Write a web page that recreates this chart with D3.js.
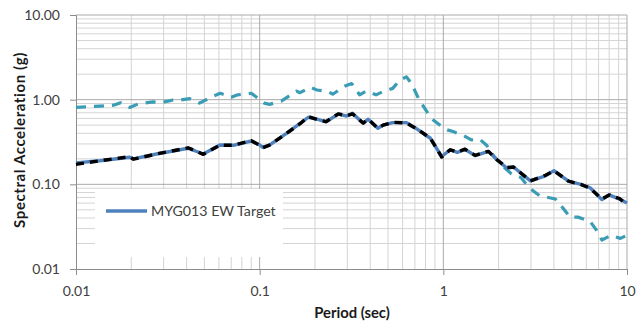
<!DOCTYPE html>
<html>
<head>
<meta charset="utf-8">
<script src="https://cdn.jsdelivr.net/npm/d3@7"></script>
<style>
  body { margin: 0; background: #fff; }
  text { font-family: Lato, "Open Sans", sans-serif; }
</style>
</head>
<body>
<div id="chart"></div>
<script>
const width = 644;
const height = 328;

// periods (sec) and spectral accelerations (g)
const targetT = [0.01, 0.0135, 0.0196, 0.0205, 0.0274, 0.0408, 0.0493, 0.0607, 0.0718, 0.09, 0.1, 0.104, 0.113, 0.14, 0.166, 0.184, 0.205, 0.23, 0.268, 0.298, 0.32, 0.366, 0.39, 0.44, 0.47, 0.53, 0.63, 0.72, 0.85, 0.98, 1.09, 1.19, 1.31, 1.49, 1.76, 1.96, 2.22, 2.41, 2.98, 3.6, 4.0, 4.8, 5.6, 6.3, 7.3, 8.0, 9.1, 10];
const targetSa = [0.179, 0.19, 0.209, 0.2, 0.228, 0.267, 0.228, 0.292, 0.289, 0.325, 0.292, 0.274, 0.29, 0.40, 0.526, 0.62, 0.588, 0.548, 0.676, 0.64, 0.69, 0.526, 0.588, 0.459, 0.50, 0.536, 0.536, 0.45, 0.35, 0.213, 0.256, 0.238, 0.26, 0.218, 0.245, 0.195, 0.155, 0.16, 0.11, 0.126, 0.145, 0.109, 0.10, 0.091, 0.066, 0.075, 0.067, 0.06];

const matchedSa = [0.172, 0.19, 0.212, 0.198, 0.228, 0.27, 0.226, 0.29, 0.29, 0.328, 0.29, 0.27, 0.29, 0.40, 0.52, 0.63, 0.585, 0.55, 0.68, 0.645, 0.68, 0.53, 0.585, 0.46, 0.50, 0.54, 0.53, 0.45, 0.35, 0.21, 0.256, 0.24, 0.26, 0.22, 0.245, 0.195, 0.158, 0.16, 0.11, 0.128, 0.145, 0.109, 0.10, 0.09, 0.067, 0.075, 0.068, 0.057];

const seedT = [0.01, 0.0135, 0.016, 0.0175, 0.0196, 0.0218, 0.0263, 0.029, 0.0338, 0.0368, 0.0416, 0.047, 0.056, 0.061, 0.07, 0.076, 0.09, 0.106, 0.113, 0.131, 0.159, 0.166, 0.188, 0.205, 0.235, 0.25, 0.29, 0.317, 0.35, 0.38, 0.43, 0.47, 0.53, 0.58, 0.63, 0.67, 0.74, 0.86, 0.96, 1.05, 1.13, 1.28, 1.42, 1.58, 1.72, 1.9, 2.07, 2.35, 2.65, 2.93, 3.35, 3.6, 4.07, 4.4, 4.9, 5.4, 6.3, 6.8, 7.3, 8.2, 9.2, 10];
const seedSa = [0.81, 0.84, 0.86, 0.92, 0.81, 0.89, 0.94, 0.92, 0.99, 0.99, 1.03, 0.91, 1.10, 1.19, 1.07, 1.14, 1.19, 0.91, 0.88, 0.96, 1.26, 1.21, 1.40, 1.30, 1.25, 1.16, 1.44, 1.55, 1.14, 1.26, 1.14, 1.25, 1.36, 1.71, 1.86, 1.55, 0.99, 0.60, 0.50, 0.44, 0.42, 0.38, 0.335, 0.34, 0.29, 0.21, 0.17, 0.133, 0.12, 0.091, 0.073, 0.071, 0.067, 0.055, 0.041, 0.041, 0.0365, 0.029, 0.022, 0.025, 0.023, 0.025];

const xTicks = [0.01, 0.1, 1, 10];
const yTicks = [0.01, 0.1, 1, 10];

const margin = { top: 15, right: 17, bottom: 59, left: 76 };

const svg = d3.select("#chart")
  .append("svg")
  .attr("width", width)
  .attr("height", height);

const x = d3.scaleLog()
  .domain([0.01, 10])
  .range([margin.left, width - margin.right]);

const y = d3.scaleLog()
  .domain([0.01, 10])
  .range([height - margin.bottom, margin.top]);

// minor values per decade
const minor = [];
[0.01, 0.1, 1].forEach(d => {
  for (let k = 2; k <= 9; k++) minor.push(d * k);
});

const g = svg.append("g");

// grid
g.selectAll("line.vminor").data(minor).enter().append("line")
  .attr("x1", d => x(d)).attr("x2", d => x(d))
  .attr("y1", y(10)).attr("y2", y(0.01))
  .attr("stroke", "#d4d4d4").attr("stroke-width", 1);
g.selectAll("line.hminor").data(minor).enter().append("line")
  .attr("y1", d => y(d)).attr("y2", d => y(d))
  .attr("x1", x(0.01)).attr("x2", x(10))
  .attr("stroke", "#d4d4d4").attr("stroke-width", 1);
g.selectAll("line.vmajor").data(xTicks.slice(1)).enter().append("line")
  .attr("x1", d => x(d)).attr("x2", d => x(d))
  .attr("y1", y(10)).attr("y2", y(0.01))
  .attr("stroke", "#aaaaaa").attr("stroke-width", 1);
g.selectAll("line.hmajor").data(yTicks.slice(1)).enter().append("line")
  .attr("y1", d => y(d)).attr("y2", d => y(d))
  .attr("x1", x(0.01)).attr("x2", x(10))
  .attr("stroke", "#aaaaaa").attr("stroke-width", 1);

// axes
const fmtY = d3.format(".2f");
const yAxis = svg.append("g")
  .attr("transform", `translate(${margin.left},0)`)
  .call(d3.axisLeft(y).tickValues(yTicks).tickFormat(fmtY).tickSize(6).tickPadding(10));
const xAxis = svg.append("g")
  .attr("transform", `translate(0,${height - margin.bottom})`)
  .call(d3.axisBottom(x).tickValues(xTicks).tickFormat(d => d3.format("~g")(d)).tickSize(6).tickPadding(11));

[xAxis, yAxis].forEach(a => {
  a.select(".domain").attr("stroke", "#8c8c8c");
  a.selectAll(".tick line").attr("stroke", "#8c8c8c");
  a.selectAll(".tick text")
    .attr("fill", "#404040")
    .style("font-size", "14px")
    .style("font-family", "Lato, sans-serif");
});

// series
const line = d3.line()
  .x(d => x(d[0]))
  .y(d => y(d[1]));

const plot = svg.append("g")
  .attr("stroke-linejoin", "round")
  .attr("fill", "none");

plot.append("path")
  .datum(d3.zip(seedT, seedSa))
  .attr("d", line)
  .attr("stroke", "#3a9db5")
  .attr("stroke-width", 3.2)
  .attr("stroke-dasharray", "10,8");

plot.append("path")
  .datum(d3.zip(targetT, targetSa))
  .attr("d", line)
  .attr("stroke", "#4f81bd")
  .attr("stroke-width", 3.4);

plot.append("path")
  .datum(d3.zip(targetT, matchedSa))
  .attr("d", line)
  .attr("stroke", "#000")
  .attr("stroke-width", 3.4)
  .attr("stroke-dasharray", "8,6");

// legend
const legend = svg.append("g");
legend.append("rect")
  .attr("x", 95).attr("y", 189)
  .attr("width", 188).attr("height", 68)
  .attr("fill", "#fff");
legend.append("line")
  .attr("x1", 106).attr("x2", 147)
  .attr("y1", 211).attr("y2", 211)
  .attr("stroke", "#4f81bd").attr("stroke-width", 3.4);
legend.append("text")
  .attr("x", 151).attr("y", 216)
  .attr("fill", "#404040")
  .style("font-size", "14.2px")
  .text("MYG013 EW Target");

// titles
svg.append("text")
  .attr("x", 352).attr("y", 318)
  .attr("text-anchor", "middle")
  .attr("fill", "#1a1a1a")
  .style("font-size", "14.8px")
  .style("font-weight", "bold")
  .text("Period (sec)");

svg.append("text")
  .attr("transform", "translate(25,140) rotate(-90)")
  .attr("text-anchor", "middle")
  .attr("fill", "#1a1a1a")
  .style("font-size", "15px")
  .style("font-weight", "bold")
  .style("letter-spacing", "0.6px")
  .text("Spectral Acceleration (g)");
</script>
</body>
</html>
